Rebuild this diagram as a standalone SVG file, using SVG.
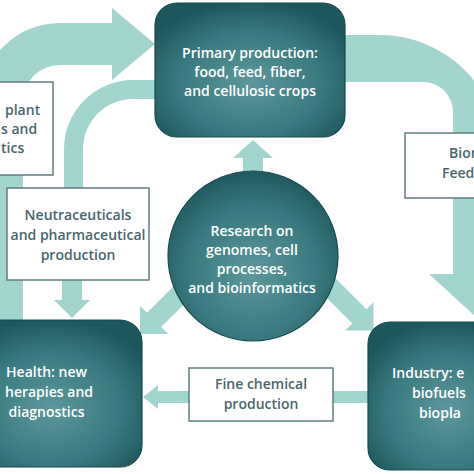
<svg xmlns="http://www.w3.org/2000/svg" width="474" height="474" viewBox="0 0 474 474">
<defs>
<radialGradient id="dg" cx="50%" cy="60%" r="62%">
<stop offset="0" stop-color="#5d979b"/>
<stop offset="0.6" stop-color="#3a7a80"/>
<stop offset="1" stop-color="#1d565c"/>
</radialGradient>
<style>
.band{fill:#a3d5cf}
.dark{fill:url(#dg);stroke:#174a50;stroke-width:1.2}
.wbox{fill:#fff;stroke:#5f7c80;stroke-width:1.5}
.lt{fill:#fff;font-family:"Open Sans","Liberation Sans",sans-serif;font-weight:600;font-size:14px}
.dk{fill:#47666b;font-family:"Open Sans","Liberation Sans",sans-serif;font-weight:600;font-size:14px}
.c{text-anchor:middle}
</style>
</defs>
<rect width="474" height="474" fill="#fff"/>
<g id="connectors">
<path class="band" d="M -20 322 V 103 A 80 80 0 0 1 60 23 H 112 V 8 L 155 44 L 112 80 V 65 H 60 A 37 37 0 0 0 23 102 V 322 Z"/>
<path class="band" d="M 64 190 V 149 A 69 69 0 0 1 133 80 H 160 V 99 H 133 A 50 50 0 0 0 83 149 V 190 Z"/>
<path class="band" d="M 340 35 H 380 A 120 120 0 0 1 500 155 V 274 H 525 L 477 318 L 429 274 H 453 V 112 A 30 30 0 0 0 423 82 H 340 Z"/>
<path class="band" d="M 243 180 V 158 H 233 L 253 140 L 273 158 H 263 V 180 Z"/>
<path class="band" d="M 62 278 V 300 H 54 L 72 318 L 90 300 H 82 V 278 Z"/>
<path class="band" transform="translate(205 269) rotate(135)" d="M 0 -10 H 72 V -20 L 92 0 L 72 20 V 10 H 0 Z"/>
<path class="band" transform="translate(300 257) rotate(45)" d="M 0 -10 H 84 V -20 L 104 0 L 84 20 V 10 H 0 Z"/>
<path class="band" d="M 190 391 H 158 V 385 L 143 397 L 158 409 V 403 H 190 Z"/>
<rect class="band" x="330" y="391" width="42" height="12"/>
</g>
<g id="primary">
<rect class="dark" x="155" y="3" width="190" height="134" rx="22"/>
<text class="lt c" x="250" y="58">Primary production:</text>
<text class="lt c" x="250" y="77">food, feed, fiber,</text>
<text class="lt c" x="250" y="96">and cellulosic crops</text>
</g>
<g id="plant">
<rect class="wbox" x="-10" y="82" width="63" height="93"/>
<text class="dk" x="5" y="115">plant</text>
<text class="dk" x="1" y="134">s and</text>
<text class="dk" x="1" y="153">tics</text>
</g>
<g id="neutra">
<rect class="wbox" x="7" y="188" width="142" height="92"/>
<text class="dk c" x="78" y="220">Neutraceuticals</text>
<text class="dk c" x="78" y="240">and pharmaceutical</text>
<text class="dk c" x="78" y="260">production</text>
</g>
<g id="bio">
<rect class="wbox" x="405" y="133" width="80" height="65"/>
<text class="dk" x="449" y="158">Biom</text>
<text class="dk" x="442" y="178">Feed</text>
</g>
<g id="research">
<circle class="dark" cx="253" cy="256" r="85"/>
<text class="lt c" x="252" y="236">Research on</text>
<text class="lt c" x="252" y="255">genomes, cell</text>
<text class="lt c" x="252" y="274">processes,</text>
<text class="lt c" x="252" y="293">and bioinformatics</text>
</g>
<g id="health">
<rect class="dark" x="-40" y="320" width="182" height="147" rx="22"/>
<text class="lt c" x="46.5" y="377">Health: new</text>
<text class="lt c" x="49" y="397">herapies and</text>
<text class="lt c" x="46.5" y="417">diagnostics</text>
</g>
<g id="finechem">
<rect class="wbox" x="189" y="368" width="144" height="53"/>
<text class="dk c" x="261" y="389">Fine chemical</text>
<text class="dk c" x="261" y="409">production</text>
</g>
<g id="industry">
<rect class="dark" x="368" y="322" width="160" height="148" rx="22"/>
<text class="lt" x="392" y="378">Industry: e</text>
<text class="lt" x="412" y="398">biofuels</text>
<text class="lt" x="419" y="418">biopla</text>
</g>
</svg>
